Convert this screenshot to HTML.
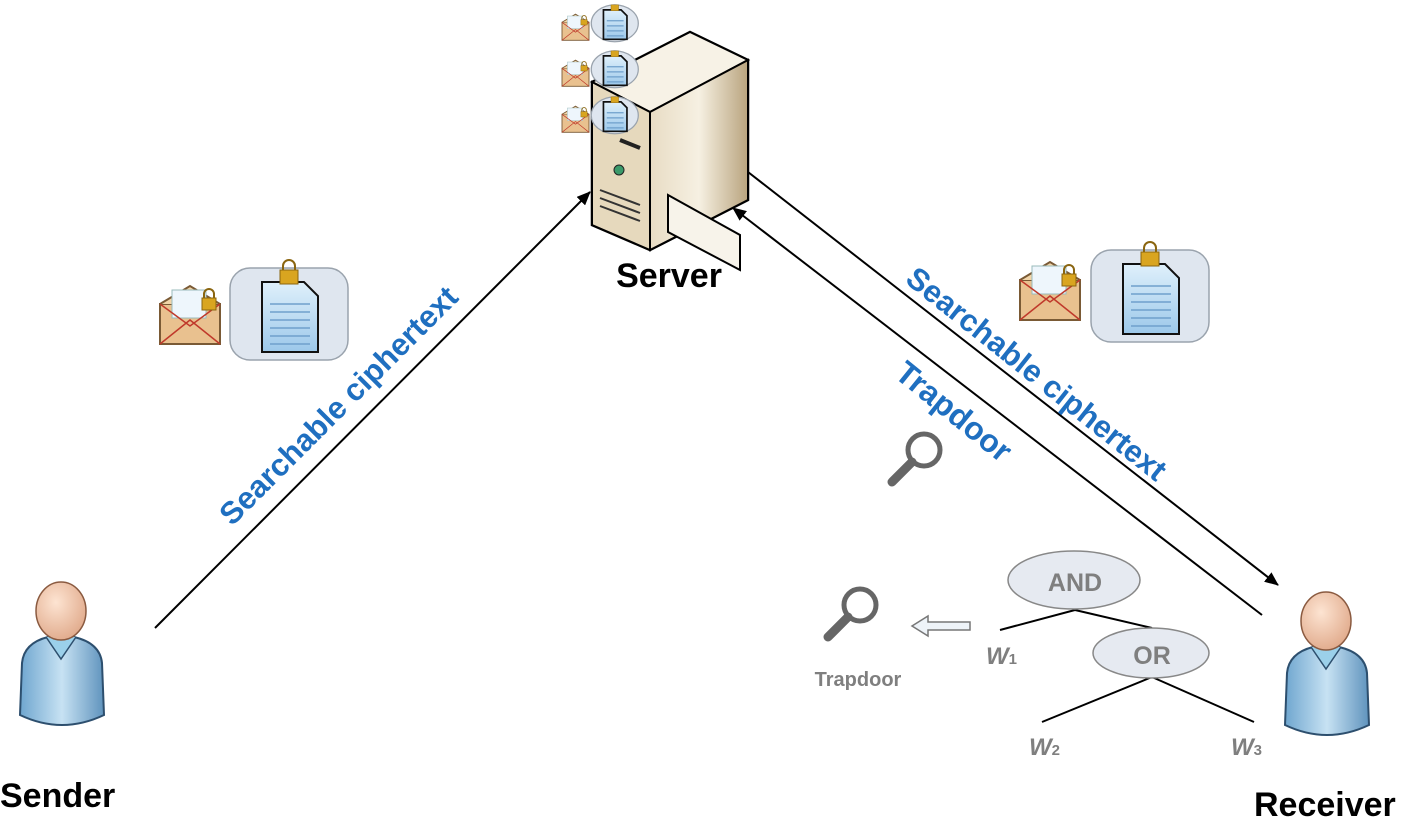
<!DOCTYPE html>
<html><head><meta charset="utf-8"><style>
html,body{margin:0;padding:0;background:#fff;}
svg{display:block;font-family:"Liberation Sans",Arial,sans-serif;}
</style></head><body>
<svg width="1405" height="819" viewBox="0 0 1405 819" xmlns="http://www.w3.org/2000/svg">
<defs>
<marker id="ah" markerWidth="14" markerHeight="12" refX="13" refY="6" orient="auto" markerUnits="userSpaceOnUse">
<path d="M0,0 L14,6 L0,12 Z" fill="#000"/></marker>
<linearGradient id="tan" x1="0" x2="1"><stop offset="0" stop-color="#e8dcc4"/><stop offset="0.5" stop-color="#f6f0e2"/><stop offset="1" stop-color="#b9a47e"/></linearGradient>
<linearGradient id="tan2" x1="0" x2="1"><stop offset="0" stop-color="#c9b894"/><stop offset="1" stop-color="#efe6d2"/></linearGradient>
<linearGradient id="body" x1="0" x2="1"><stop offset="0" stop-color="#6fa6cf"/><stop offset="0.5" stop-color="#c7e2f3"/><stop offset="1" stop-color="#5f93bd"/></linearGradient>
<radialGradient id="head" cx="0.4" cy="0.35" r="0.7"><stop offset="0" stop-color="#fde4d2"/><stop offset="1" stop-color="#e0a98a"/></radialGradient>
<linearGradient id="doc" x1="0" x2="0" y1="0" y2="1"><stop offset="0" stop-color="#dff0fb"/><stop offset="1" stop-color="#9cc8ea"/></linearGradient>
<g id="envelope">
<rect x="0" y="14" width="60" height="40" fill="#e9c18f" stroke="#7a5a35" stroke-width="2"/>
<path d="M0,14 L30,-4 L60,14" fill="#f1d4a8" stroke="#7a5a35" stroke-width="2"/>
<rect x="12" y="0" width="34" height="28" fill="#eef6fc" stroke="#9bb" stroke-width="1"/>
<path d="M0,54 L30,30 L60,54 M0,14 L30,36 L60,14" fill="none" stroke="#c0392b" stroke-width="1.5"/>
<rect x="42" y="8" width="14" height="12" fill="#d9a520" stroke="#8a6510"/><path d="M44,8 v-4 a5,5 0 0 1 10,0 v4" fill="none" stroke="#8a6510" stroke-width="2"/>
</g>
<g id="docbox">
<rect x="0" y="0" width="118" height="92" rx="20" fill="#dfe6ef" stroke="#9aa3ad" stroke-width="1.5"/>
<path d="M32,14 h42 l14,14 v56 h-56 z" fill="url(#doc)" stroke="#111" stroke-width="2"/>
<path d="M40,36 h40 M40,44 h40 M40,52 h40 M40,60 h40 M40,68 h40 M40,76 h40" stroke="#6fa0cc" stroke-width="1.5"/>
<rect x="50" y="2" width="18" height="14" fill="#d9a520" stroke="#8a6510"/><path d="M53,2 v-4 a6,6 0 0 1 12,0 v4" fill="none" stroke="#8a6510" stroke-width="2"/>
</g>
<g id="minidoc">
<ellipse cx="59" cy="46" rx="56" ry="44" fill="#dfe6ef" stroke="#9aa3ad" stroke-width="3"/>
<path d="M32,14 h42 l14,14 v56 h-56 z" fill="url(#doc)" stroke="#111" stroke-width="4"/>
<path d="M40,40 h40 M40,52 h40 M40,64 h40 M40,76 h40" stroke="#6fa0cc" stroke-width="3"/>
<rect x="50" y="2" width="18" height="14" fill="#d9a520" stroke="#8a6510"/>
</g>
<g id="person">
<path d="M2,130 L4,78 Q6,58 30,52 L56,52 Q82,58 84,78 L86,130 Q44,150 2,130 Z" fill="url(#body)" stroke="#2d4f6e" stroke-width="2"/>
<path d="M28,52 L43,74 L58,52" fill="#9bd0ea" stroke="#2d4f6e" stroke-width="1.5"/>
<ellipse cx="43" cy="26" rx="25" ry="29" fill="url(#head)" stroke="#8a5a40" stroke-width="1.5"/>
</g>
<g id="mag">
<circle cx="38" cy="20" r="16" fill="#fff" stroke="#666" stroke-width="5"/>
<path d="M26,32 L6,52" stroke="#666" stroke-width="9" stroke-linecap="round"/>
</g>
</defs>

<line x1="155" y1="628" x2="590" y2="192" stroke="#000" stroke-width="2" marker-end="url(#ah)"/>
<line x1="748" y1="172" x2="1278" y2="585" stroke="#000" stroke-width="2" marker-end="url(#ah)"/>
<line x1="1262" y1="615" x2="733" y2="208" stroke="#000" stroke-width="2" marker-end="url(#ah)"/>

<path d="M592,82 L690,32 L748,60 L748,200 L650,250 L592,225 Z" fill="url(#tan2)" stroke="#000" stroke-width="2.5"/>
<path d="M592,82 L690,32 L748,60 L650,112 Z" fill="#f7f2e6" stroke="#000" stroke-width="2"/>
<path d="M650,112 L748,60 L748,200 L650,250 Z" fill="url(#tan)" stroke="#000" stroke-width="2"/>
<path d="M592,82 L650,112 L650,250 L592,225 Z" fill="#e6d9bd" stroke="#000" stroke-width="2"/>
<path d="M620,140 L640,148" stroke="#222" stroke-width="4"/>
<circle cx="619" cy="170" r="5" fill="#3b9a6a" stroke="#222"/>
<path d="M600,190 L640,205 M600,198 L640,213 M600,206 L640,221" stroke="#333" stroke-width="2"/>
<path d="M668,195 L740,235 L740,270 L668,232 Z" fill="#f7f3ea" stroke="#000" stroke-width="2"/>
<use href="#envelope" transform="translate(562,16) scale(0.45)"/>
<use href="#minidoc" transform="translate(590,4) scale(0.42)"/>
<use href="#envelope" transform="translate(562,62) scale(0.45)"/>
<use href="#minidoc" transform="translate(590,50) scale(0.42)"/>
<use href="#envelope" transform="translate(562,108) scale(0.45)"/>
<use href="#minidoc" transform="translate(590,96) scale(0.42)"/>
<text x="669" y="287" font-size="34" font-weight="bold" text-anchor="middle">Server</text>

<use href="#envelope" transform="translate(160,290)"/>
<use href="#docbox" transform="translate(230,268)"/>
<use href="#envelope" transform="translate(1020,266)"/>
<use href="#docbox" transform="translate(1091,250)"/>

<text transform="translate(346,413) rotate(-45)" font-size="31" font-weight="bold" fill="#1f6fc0" text-anchor="middle">Searchable ciphertext</text>
<text transform="translate(1030,382) rotate(38.5)" font-size="31" font-weight="bold" fill="#1f6fc0" text-anchor="middle">Searchable ciphertext</text>
<text transform="translate(947,420) rotate(39)" font-size="32" font-weight="bold" fill="#1f6fc0" text-anchor="middle">Trapdoor</text>

<use href="#mag" transform="translate(886,430)"/>
<use href="#mag" transform="translate(822,585)"/>
<text x="858" y="686" font-size="20" font-weight="bold" fill="#7f7f7f" text-anchor="middle">Trapdoor</text>
<path d="M970,622 L928,622 L928,616 L912,626 L928,636 L928,630 L970,630 Z" fill="#eef3f8" stroke="#777" stroke-width="1.5"/>

<line x1="1075" y1="610" x2="1000" y2="630" stroke="#000" stroke-width="2"/>
<line x1="1075" y1="610" x2="1152" y2="628" stroke="#000" stroke-width="2"/>
<line x1="1152" y1="677" x2="1042" y2="722" stroke="#000" stroke-width="2"/>
<line x1="1152" y1="677" x2="1254" y2="722" stroke="#000" stroke-width="2"/>
<ellipse cx="1074" cy="580" rx="66" ry="29" fill="#e6eaf1" stroke="#888" stroke-width="1.5"/>
<text x="1075" y="591" font-size="25" font-weight="bold" fill="#7f7f7f" text-anchor="middle">AND</text>
<ellipse cx="1151" cy="653" rx="58" ry="25" fill="#e6eaf1" stroke="#888" stroke-width="1.5"/>
<text x="1152" y="664" font-size="25" font-weight="bold" fill="#7f7f7f" text-anchor="middle">OR</text>
<g font-size="24" font-weight="bold" font-style="italic" fill="#7f7f7f">
<text x="986" y="664">W<tspan font-size="15" font-style="normal">1</tspan></text>
<text x="1029" y="755">W<tspan font-size="15" font-style="normal">2</tspan></text>
<text x="1231" y="755">W<tspan font-size="15" font-style="normal">3</tspan></text>
</g>

<use href="#person" transform="translate(18,585)"/>
<use href="#person" transform="translate(1283,595)"/>
<text x="0" y="807" font-size="34" font-weight="bold">Sender</text>
<text x="1254" y="816" font-size="34" font-weight="bold">Receiver</text>
</svg>
</body></html>
